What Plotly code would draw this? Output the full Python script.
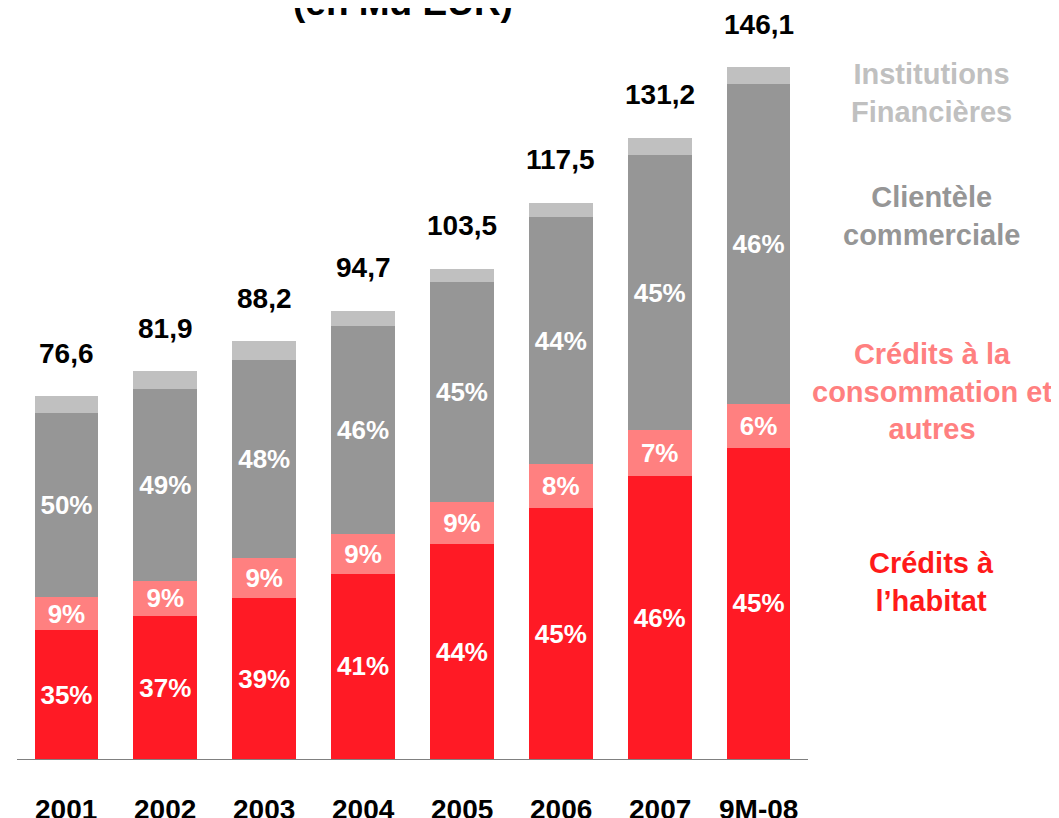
import plotly.graph_objects as go

categories = ["2001", "2002", "2003", "2004", "2005", "2006", "2007", "9M-08"]
totals = [76.6, 81.9, 88.2, 94.7, 103.5, 117.5, 131.2, 146.1]
habitat = [27.2, 30.2, 34.0, 39.1, 45.4, 53.0, 59.7, 65.7]
consommation = [7.0, 7.4, 8.4, 8.4, 8.9, 9.3, 9.7, 9.3]
commerciale = [38.8, 40.5, 41.8, 43.9, 46.4, 52.1, 58.1, 67.6]
institutions = [3.6, 3.8, 4.0, 3.3, 2.8, 3.1, 3.7, 3.5]
pct_habitat = ["35%", "37%", "39%", "41%", "44%", "45%", "46%", "45%"]
pct_consommation = ["9%", "9%", "9%", "9%", "9%", "8%", "7%", "6%"]
pct_commerciale = ["50%", "49%", "48%", "46%", "45%", "44%", "45%", "46%"]

FONT = "Liberation Sans, Arial, sans-serif"
C_HAB = "#FF1A25"
C_CONS = "#FF8080"
C_COMM = "#969696"
C_INST = "#C0C0C0"

fig = go.Figure()
series = [
    ("Crédits à l’habitat", habitat, pct_habitat, C_HAB),
    ("Crédits à la consommation et autres", consommation, pct_consommation, C_CONS),
    ("Clientèle commerciale", commerciale, pct_commerciale, C_COMM),
    ("Institutions Financières", institutions, None, C_INST),
]
for name, vals, txt, col in series:
    fig.add_trace(go.Bar(
        x=categories, y=vals, name=name,
        marker=dict(color=col, line=dict(width=0)),
        text=txt if txt else None,
        textposition="inside" if txt else "none",
        insidetextanchor="middle",
        textangle=0,
        textfont=dict(family=FONT, size=26, color="white", weight="bold"),
        width=0.645,
        hoverinfo="skip",
    ))

# total labels above bars
for i, t in enumerate(totals):
    fig.add_annotation(
        x=i, y=t, xref="x", yref="y",
        text=f"{t:.1f}".replace(".", ","),
        showarrow=False, yanchor="middle", yshift=43,
        font=dict(family=FONT, size=28, color="black", weight="bold"),
    )

# category labels
for i, c in enumerate(categories):
    fig.add_annotation(
        x=i, y=0, xref="x", yref="paper",
        text=c, showarrow=False, yanchor="middle", yshift=-50,
        font=dict(family=FONT, size=28, color="black", weight="bold"),
    )

# plot geometry (page is offset by the 8px body margin)
OFF = 8
W, H = 1059, 818
L = 17 - OFF
T = 40 - OFF
R = W - (808 - OFF)
B = H - (759 - OFF)
plot_h = H - T - B
plot_w = W - L - R

def py(p):
    return (H - B - (p - OFF)) / plot_h

def px(p):
    return (p - OFF - L) / plot_w

legend_items = [
    ("Institutions<br>Financières", 93.5, C_INST),
    ("Clientèle<br>commerciale", 215.5, C_COMM),
    ("Crédits à la<br>consommation et<br>autres", 391, C_CONS),
    ("Crédits à<br>l’habitat", 581.5, "#FF1A1A"),
]
for txt, yp, col in legend_items:
    fig.add_annotation(
        x=px(932), y=py(yp), xref="paper", yref="paper",
        text=txt, showarrow=False, xanchor="center", yanchor="middle",
        align="center",
        font=dict(family=FONT, size=29, color=col, weight="bold"),
    )

fig.add_annotation(
    x=px(403), y=py(25), xref="paper", yref="paper",
    text="(en Md EUR)", showarrow=False, xanchor="center", yanchor="bottom",
    font=dict(family=FONT, size=37, color="black", weight="bold"),
)

fig.update_layout(
    width=W, height=H,
    margin=dict(l=L, r=R, t=T, b=B, pad=0),
    barmode="stack",
    showlegend=False,
    plot_bgcolor="white",
    paper_bgcolor="white",
    uniformtext=dict(minsize=26, mode="show"),
    xaxis=dict(
        type="category", range=[-0.5, 7.5],
        showline=True, linecolor="#808080", linewidth=1,
        showticklabels=False, ticks="", showgrid=False, zeroline=False,
    ),
    yaxis=dict(
        range=[0, plot_h / 4.735], visible=False, showgrid=False, zeroline=False,
    ),
)

fig.write_html("out.html")
